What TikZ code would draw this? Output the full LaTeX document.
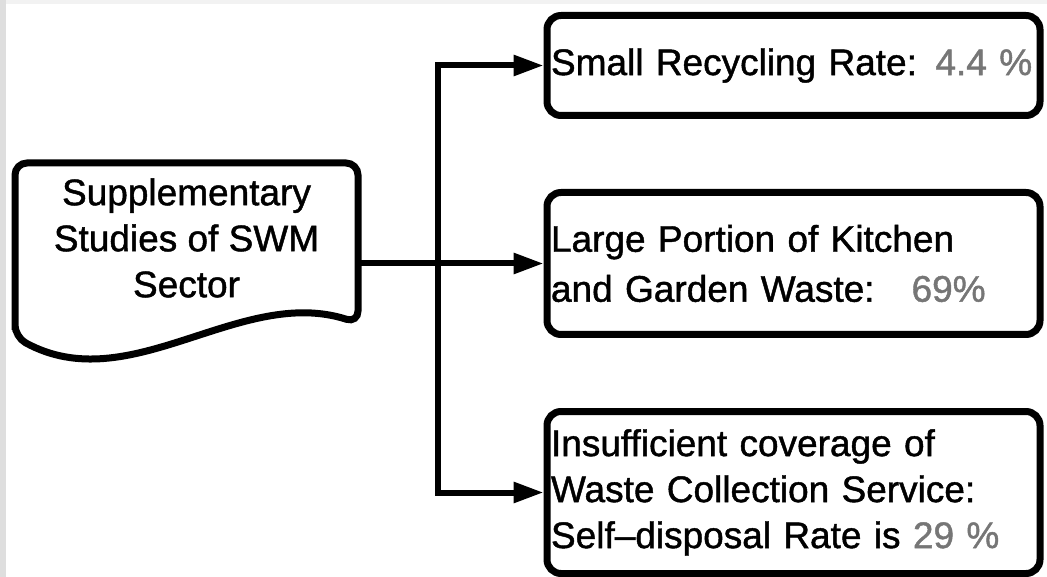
\documentclass[tikz,border=0pt]{standalone}
\usepackage{fontspec}
\setmainfont{Liberation Sans}[UprightFeatures={FakeBold=1.2}]
\usepackage{xcolor}
\usetikzlibrary{positioning,calc,arrows.meta}
\definecolor{numgray}{HTML}{767676}

\begin{document}
\begin{tikzpicture}[x=1pt, y=-1pt,
	  font=\fontsize{37}{46}\selectfont,
	  resbox/.style={draw, line width=7pt, rounded corners=14pt, minimum width=493pt,
	    text width=485pt, inner sep=4pt, align=left},
	  docline/.style={line width=7pt, rounded corners=12pt},
	  flow/.style={line width=6pt, -{Triangle[length=30pt,width=20pt]}}]
	  \useasboundingbox (0,0) rectangle (1047,577);
	  \fill[black!13] (0,0) rectangle (6,577);
	  \fill[black!5] (6,0) rectangle (1047,4);

	  % document shape on the left
	  \node[align=center, minimum width=343pt, minimum height=150pt, inner sep=0pt, outer sep=0pt] (src) at (186.5,238)
	    {Supplementary\\Studies of SWM\\Sector};
	  \draw[docline] ($(src.south west)+(0,24)$) -- (src.north west) -- (src.north east)
	    -- ($(src.south east)+(0,10)$) .. controls +(-118,-38) and +(115,63) .. ($(src.south west)+(0,24)$) -- cycle;

	  % findings
	  \node[resbox, minimum height=100pt] (recyc) at (793.5,65.5)
	    {Small Recycling Rate: \textcolor{numgray}{4.4 \%}};
	  \node[resbox, minimum height=142pt, below=70pt of recyc] (kitchen)
	    {Large Portion of Kitchen\\[4pt]and Garden Waste:\hspace{1em}\textcolor{numgray}{69\%}};
	  \node[resbox, minimum height=162pt, below=70pt of kitchen] (cover)
	    {Insufficient coverage of\\Waste Collection Service:\\Self–disposal Rate is \textcolor{numgray}{29 \%}};

	  \coordinate (fork) at (438,262.5);
	  \draw[flow] (kitchen.west -| src.east) -- (kitchen.west);
	  \draw[flow] (fork) |- (recyc.west);
	  \draw[flow] (fork) |- (cover.west);
\end{tikzpicture}
\end{document}
